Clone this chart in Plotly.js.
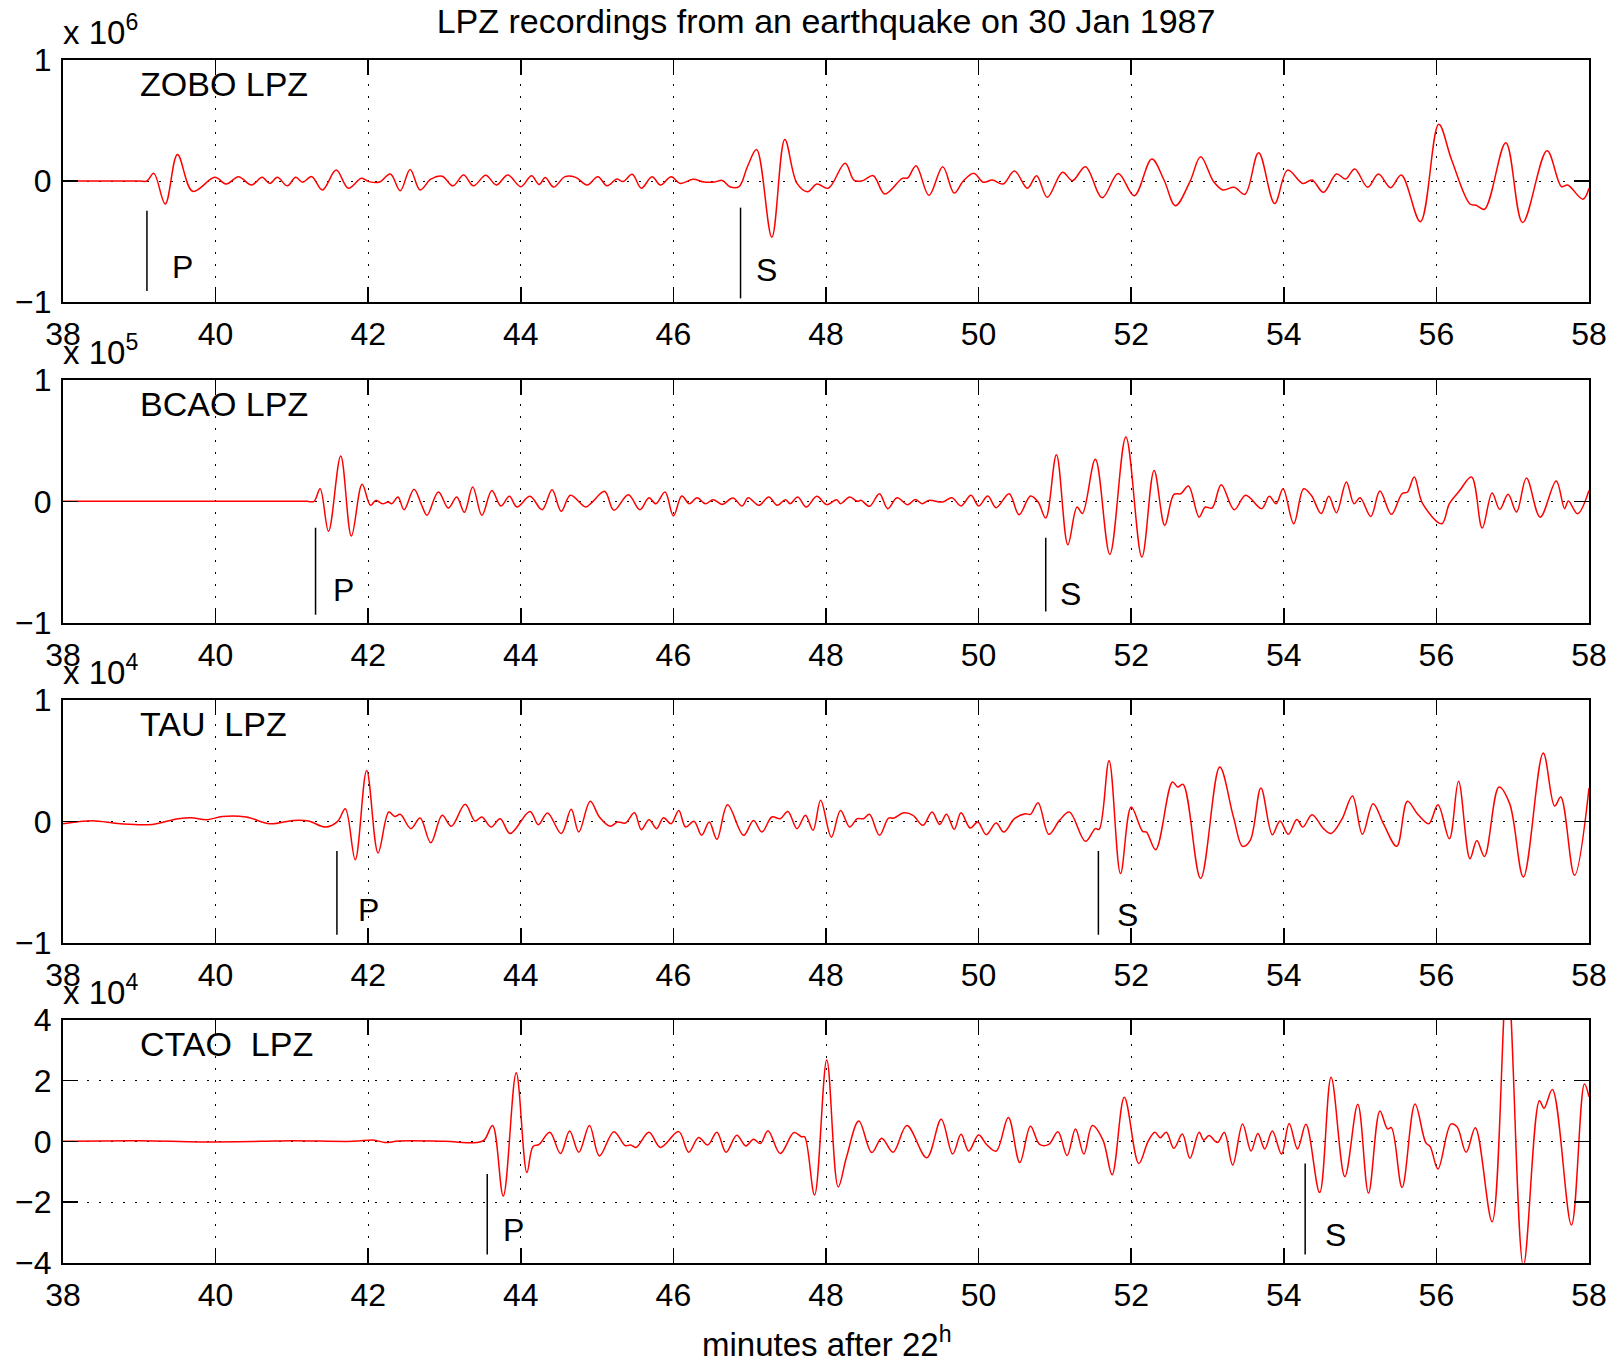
<!DOCTYPE html>
<html><head><meta charset="utf-8">
<script src="https://cdn.plot.ly/plotly-3.0.1.min.js"></script>
<style>html,body{margin:0;padding:0;background:#fff}#chart{width:1621px;height:1365px}</style>
</head><body><div id="chart"></div>
<script>
// ---------------- DATA (minutes after 22h, amplitude in units of the panel exponent) ----------------
const stationNames = ["ZOBO LPZ", "BCAO LPZ", "TAU\u00A0 LPZ", "CTAO\u00A0 LPZ"];
const exponents = [6, 5, 4, 4];
const xTicks = [38, 40, 42, 44, 46, 48, 50, 52, 54, 56, 58];
const yTicksSmall = [-1, 0, 1];
const yTicksCtao = [-4, -2, 0, 2, 4];

const zoboTime = [38.0,38.5,38.8,39.0,39.1,39.19,39.34,39.50,39.70,39.99,40.14,40.30,40.47,40.61,40.71,40.81,40.94,41.05,41.14,41.26,41.40,41.58,41.74,41.91,42.01,42.15,42.29,42.42,42.55,42.68,42.82,42.97,43.11,43.25,43.38,43.54,43.68,43.83,44.00,44.14,44.24,44.32,44.43,44.58,44.72,44.87,45.01,45.13,45.26,45.34,45.46,45.58,45.72,45.83,45.97,46.09,46.26,46.40,46.54,46.64,46.74,46.86,46.97,47.09,47.29,47.46,47.62,47.76,47.88,48.03,48.25,48.37,48.48,48.62,48.77,49.00,49.07,49.18,49.35,49.53,49.68,49.80,49.94,50.06,50.18,50.32,50.47,50.64,50.76,50.90,51.10,51.23,51.40,51.62,51.83,52.04,52.27,52.43,52.58,52.77,52.91,53.08,53.20,53.35,53.49,53.67,53.88,54.05,54.25,54.37,54.52,54.69,54.81,54.93,55.10,55.24,55.40,55.54,55.79,56.03,56.20,56.44,56.52,56.63,56.91,57.13,57.45,57.64,57.72,57.92,58.0];
const zoboAmp = [0,0,0,0,0,0.063,-0.19,0.22,-0.085,0.03,-0.025,0.036,-0.033,0.03,-0.02,0.03,-0.04,0.03,-0.01,0.036,-0.074,0.09,-0.06,0.022,-0.005,-0.008,0.058,-0.08,0.096,-0.074,0.015,0.04,-0.04,0.05,-0.04,0.047,-0.033,0.05,-0.047,0.044,-0.028,0.028,-0.05,0.036,0.03,-0.033,0.036,-0.04,0.017,-0.005,0.055,-0.06,0.036,-0.033,0.036,-0.02,0.014,-0.008,-0.008,0.005,-0.047,-0.047,0.118,0.26,-0.465,0.344,-0.02,-0.088,-0.025,-0.06,0.146,0.005,0.003,0.044,-0.107,0.022,0.025,0.127,-0.118,0.118,-0.10,0.0,0.063,-0.01,0.008,-0.025,0.083,-0.06,0.044,-0.135,0.072,0.003,0.118,-0.138,0.063,-0.121,0.182,0.008,-0.204,-0.005,0.20,-0.005,-0.074,-0.052,-0.11,0.234,-0.185,0.09,-0.02,0.008,-0.094,0.058,0.016,0.10,-0.052,0.058,-0.055,0.05,-0.336,0.468,0.174,-0.19,-0.2,-0.234,0.317,-0.344,0.25,-0.047,-0.033,-0.15,-0.06];

const bcaoTime = [38.0,38.5,39.0,39.5,40.0,40.5,41.0,41.2,41.29,41.37,41.48,41.64,41.78,41.92,42.03,42.10,42.19,42.26,42.31,42.39,42.47,42.60,42.70,42.77,42.92,43.05,43.16,43.26,43.37,43.49,43.62,43.74,43.85,43.95,44.12,44.28,44.41,44.53,44.65,44.85,44.93,45.10,45.22,45.41,45.56,45.68,45.77,45.89,46.00,46.11,46.21,46.31,46.42,46.52,46.64,46.78,46.90,46.98,47.12,47.25,47.36,47.47,47.53,47.63,47.74,47.88,48.01,48.14,48.19,48.31,48.41,48.46,48.57,48.70,48.81,48.93,49.07,49.17,49.26,49.35,49.53,49.65,49.77,49.90,50.00,50.12,50.23,50.40,50.53,50.68,50.78,50.88,51.02,51.17,51.29,51.36,51.53,51.72,51.93,52.14,52.30,52.44,52.56,52.65,52.75,52.89,52.97,53.06,53.18,53.35,53.50,53.71,53.81,53.90,53.99,54.13,54.26,54.36,54.49,54.59,54.69,54.82,54.92,55.00,55.14,55.26,55.41,55.55,55.62,55.71,55.82,56.07,56.17,56.30,56.46,56.60,56.73,56.83,56.94,57.05,57.18,57.36,57.57,57.68,57.73,57.85,58.0];
const bcaoAmp = [0,0,0,0,0,0,0,0,0,0.104,-0.247,0.374,-0.286,0.14,-0.033,0.008,-0.02,-0.005,-0.02,0.036,-0.069,0.10,-0.03,-0.115,0.077,-0.055,0.036,-0.09,0.118,-0.115,0.09,-0.038,0.041,-0.047,0.041,-0.069,0.096,-0.082,0.05,-0.047,-0.01,0.082,-0.074,0.055,-0.069,0.03,-0.02,0.077,-0.12,0.044,-0.02,0.03,-0.02,0.014,-0.025,0.027,-0.038,0.03,-0.033,0.036,-0.033,0.014,-0.02,0.036,-0.047,0.041,-0.027,0.014,-0.019,0.036,0.0,0.008,-0.041,0.063,-0.06,0.03,-0.027,0.016,-0.019,0.008,-0.005,0.03,-0.038,0.05,-0.038,0.044,-0.052,0.063,-0.11,0.044,-0.005,-0.137,0.385,-0.357,-0.047,-0.10,0.346,-0.437,0.53,-0.459,0.255,-0.198,0.058,0.063,0.126,-0.13,-0.047,-0.055,0.137,-0.069,0.05,-0.06,0.041,-0.019,0.104,-0.184,0.104,0.05,-0.10,0.041,-0.093,0.16,-0.019,0.03,-0.124,0.085,-0.107,0.063,0.077,0.2,-0.019,-0.184,-0.019,0.085,0.2,-0.22,0.069,-0.066,0.058,-0.088,0.192,-0.13,0.168,-0.06,0.003,-0.102,0.09];

const tauTime = [38.0,38.38,38.75,39.17,39.51,39.68,39.89,40.09,40.40,40.71,41.02,41.22,41.44,41.60,41.70,41.83,41.98,42.13,42.27,42.35,42.42,42.56,42.68,42.82,42.97,43.09,43.27,43.40,43.49,43.61,43.73,43.86,44.12,44.23,44.35,44.53,44.66,44.76,44.91,45.03,45.17,45.27,45.37,45.49,45.58,45.68,45.78,45.87,45.97,46.07,46.16,46.27,46.37,46.47,46.57,46.71,46.92,47.05,47.16,47.29,47.40,47.50,47.62,47.73,47.83,47.93,48.07,48.19,48.31,48.41,48.49,48.57,48.70,48.82,48.89,49.02,49.14,49.27,49.39,49.49,49.58,49.68,49.77,49.89,49.99,50.10,50.23,50.33,50.47,50.61,50.68,50.78,50.92,51.06,51.19,51.40,51.53,51.58,51.71,51.86,52.00,52.15,52.20,52.32,52.54,52.61,52.68,52.91,53.16,53.34,53.46,53.56,53.70,53.85,53.95,54.06,54.17,54.25,54.37,54.52,54.62,54.76,54.90,55.03,55.17,55.31,55.48,55.62,55.75,55.90,56.02,56.17,56.29,56.44,56.53,56.63,56.82,56.96,57.14,57.40,57.55,57.63,57.81,58.0];
const tauAmp = [-0.02,0.005,-0.02,-0.025,0.022,0.03,0.014,0.04,0.036,-0.02,0.008,0.003,-0.047,0.0,0.104,-0.316,0.42,-0.26,0.077,0.04,0.058,-0.06,0.027,-0.176,0.05,-0.04,0.14,0.003,0.036,-0.047,0.022,-0.1,0.082,-0.027,0.069,-0.1,0.1,-0.088,0.165,0.036,-0.04,-0.005,-0.014,0.07,-0.069,0.014,-0.06,0.03,-0.02,0.09,-0.047,0.0,-0.115,-0.005,-0.148,0.137,-0.115,0.008,-0.088,0.036,0.022,0.082,-0.06,0.05,-0.074,0.173,-0.13,0.09,-0.047,0.022,0.022,0.058,-0.115,0.027,0.027,0.07,0.05,-0.033,0.077,-0.025,0.058,-0.066,0.07,-0.055,-0.005,-0.11,-0.014,-0.088,0.022,0.063,0.058,0.154,-0.107,0.008,0.077,-0.165,-0.06,-0.066,0.50,-0.43,0.118,-0.082,-0.088,-0.234,0.324,0.283,0.305,-0.47,0.448,0.036,-0.206,-0.157,0.275,-0.11,0.003,-0.107,0.016,-0.047,0.055,-0.06,-0.1,0.016,0.209,-0.107,0.146,-0.025,-0.206,0.165,0.063,-0.019,0.137,-0.143,0.33,-0.308,-0.157,-0.29,0.283,0.146,-0.459,0.563,0.126,0.2,-0.445,0.275];

const ctaoTime = [38.0,39.0,39.8,40.6,41.0,41.8,42.08,42.22,42.4,43.0,43.42,43.52,43.63,43.77,43.94,44.08,44.16,44.24,44.38,44.52,44.64,44.76,44.90,45.03,45.22,45.37,45.44,45.51,45.68,45.83,46.07,46.20,46.33,46.45,46.57,46.69,46.83,46.95,47.05,47.14,47.24,47.40,47.58,47.68,47.72,47.85,48.01,48.16,48.27,48.43,48.60,48.73,48.88,49.06,49.32,49.51,49.66,49.77,49.87,50.00,50.11,50.23,50.39,50.54,50.68,50.80,50.92,51.04,51.16,51.27,51.38,51.49,51.63,51.75,51.91,52.10,52.22,52.31,52.38,52.46,52.56,52.67,52.77,52.89,52.95,53.02,53.13,53.22,53.33,53.46,53.57,53.66,53.75,53.85,53.97,54.07,54.18,54.29,54.47,54.62,54.80,54.97,55.11,55.26,55.36,55.41,55.55,55.72,55.86,55.92,56.02,56.19,56.27,56.39,56.51,56.73,56.93,57.14,57.35,57.41,57.52,57.77,57.94,58.0];
const ctaoAmp = [0,0.02,-0.02,0.0,0.02,0.0,0.04,-0.04,0.01,0.0,-0.04,0.04,0.52,-1.8,2.26,-1.03,-0.17,-0.1,0.3,-0.4,0.34,-0.36,0.52,-0.48,0.32,-0.14,-0.12,-0.2,0.3,-0.2,0.32,-0.36,0.13,-0.12,0.3,-0.36,0.2,-0.15,0.07,-0.07,0.35,-0.4,0.29,0.15,0.15,-1.77,2.68,-1.5,-0.51,0.67,-0.37,0.1,-0.36,0.52,-0.54,0.73,-0.42,0.23,-0.32,0.21,-0.12,-0.32,0.79,-0.7,0.5,-0.1,-0.1,0.32,-0.47,0.41,-0.42,0.52,0.04,-1.1,1.45,-0.73,-0.01,0.3,0.12,0.3,-0.23,0.24,-0.56,0.3,0.04,0.19,-0.04,0.29,-0.78,0.57,-0.32,0.26,-0.25,0.34,-0.42,0.59,-0.25,0.56,-1.69,2.11,-1.16,1.22,-1.71,1.0,0.41,0.45,-1.52,1.23,-0.04,-0.18,-0.91,0.57,0.48,-0.36,0.45,-2.65,5.5,-4.1,1.34,1.09,1.71,-2.76,1.89,1.47];

// phase picks: [time, line top, line bottom, label x, label y]
const pPicks = [[39.10,-0.245,-0.91,39.56,-0.71],[41.31,-0.217,-0.934,41.68,-0.733],[41.59,-0.245,-0.934,42.01,-0.733],[43.56,-1.08,-3.73,43.90,-2.92]];
const sPicks = [[46.88,-0.22,-0.97,47.22,-0.735],[50.88,-0.30,-0.907,51.21,-0.766],[51.57,-0.245,-0.934,51.95,-0.77],[54.28,-0.73,-3.73,54.68,-3.09]];
const stationLabelY = [0.8, 0.8, 0.8, 3.2];

// ---------------- LAYOUT ----------------
const W = 1621, H = 1365;
const FONT = 'Liberation Sans, Arial, Helvetica, sans-serif';
const panelPx = [[60, 302], [380, 622.7], [700, 942.7], [1020, 1262.7]];
const xDom = [63 / W, 1589 / W];
const times = [zoboTime, bcaoTime, tauTime, ctaoTime];
const amps = [zoboAmp, bcaoAmp, tauAmp, ctaoAmp];

const traces = [];
const shapes = [];
const annotations = [];
const layout = {
  width: W, height: H, margin: {l: 0, r: 0, t: 0, b: 0},
  paper_bgcolor: '#fff', plot_bgcolor: '#fff', showlegend: false,
  font: {family: FONT, size: 32, color: '#000'},
  title: {text: 'LPZ recordings from an earthquake on 30 Jan 1987', font: {family: FONT, size: 34, color: '#000'},
          x: 0.5096, xanchor: 'center', y: 1 - 21 / H, yanchor: 'middle', xref: 'paper', yref: 'paper'}
};

for (let i = 0; i < 4; i++) {
  const n = i === 0 ? '' : String(i + 1);
  const xa = 'x' + n, ya = 'y' + n;
  traces.push({x: times[i], y: amps[i], xaxis: xa, yaxis: ya, type: 'scatter', mode: 'lines',
               line: {color: '#ff0000', width: 1.5, shape: 'spline', smoothing: 1}, hoverinfo: 'skip'});
  const [top, bot] = panelPx[i];
  const yt = i === 3 ? yTicksCtao : yTicksSmall;
  const axisCommon = {showline: true, linewidth: 2, linecolor: '#000', mirror: 'ticks',
    ticks: 'inside', ticklen: 15, tickwidth: 1.5, tickcolor: '#000',
    showgrid: true, gridcolor: '#000', gridwidth: 1, griddash: '2px,10px', zeroline: false,
    tickfont: {family: FONT, size: 32, color: '#000'}, fixedrange: true};
  layout['xaxis' + n] = Object.assign({}, axisCommon, {domain: xDom, anchor: ya, range: [38, 58],
    tickmode: 'array', tickvals: xTicks, ticktext: xTicks.map(String), ticklabelstandoff: 3});
  layout['yaxis' + n] = Object.assign({}, axisCommon, {domain: [1 - bot / H, 1 - top / H], anchor: xa,
    range: [yt[0], yt[yt.length - 1]], tickmode: 'array', tickvals: yt,
    ticktext: yt.map(v => v < 0 ? '\u2212' + Math.abs(v) : String(v)), ticklabelstandoff: 3});
  // exponent label
  annotations.push({xref: 'paper', yref: 'paper', x: 61 / W, y: 1 - (top - 7) / H, xanchor: 'left', yanchor: 'bottom',
    text: 'x 10<sup>' + exponents[i] + '</sup>', showarrow: false, font: {family: FONT, size: 33, color: '#000'}});
  // station label
  annotations.push({xref: xa, yref: ya, x: 38.98, y: stationLabelY[i], xanchor: 'left', yanchor: 'middle',
    text: stationNames[i], showarrow: false, font: {family: FONT, size: 34, color: '#000'}});
  // picks
  [[pPicks[i], 'P'], [sPicks[i], 'S']].forEach(([p, lab]) => {
    shapes.push({type: 'line', xref: xa, yref: ya, x0: p[0], x1: p[0], y0: p[1], y1: p[2],
                 line: {color: '#000', width: 1.5}});
    annotations.push({xref: xa, yref: ya, x: p[3], y: p[4], xanchor: 'center', yanchor: 'middle',
      text: lab, showarrow: false, font: {family: FONT, size: 32, color: '#000'}});
  });
}
annotations.push({xref: 'paper', yref: 'paper', x: 0.5096, y: 1 - 1342 / H, xanchor: 'center', yanchor: 'middle',
  text: 'minutes after 22<sup>h</sup>', showarrow: false, font: {family: FONT, size: 33, color: '#000'}});
layout.shapes = shapes;
layout.annotations = annotations;

Plotly.newPlot('chart', traces, layout, {displayModeBar: false, staticPlot: true});
</script></body></html>
